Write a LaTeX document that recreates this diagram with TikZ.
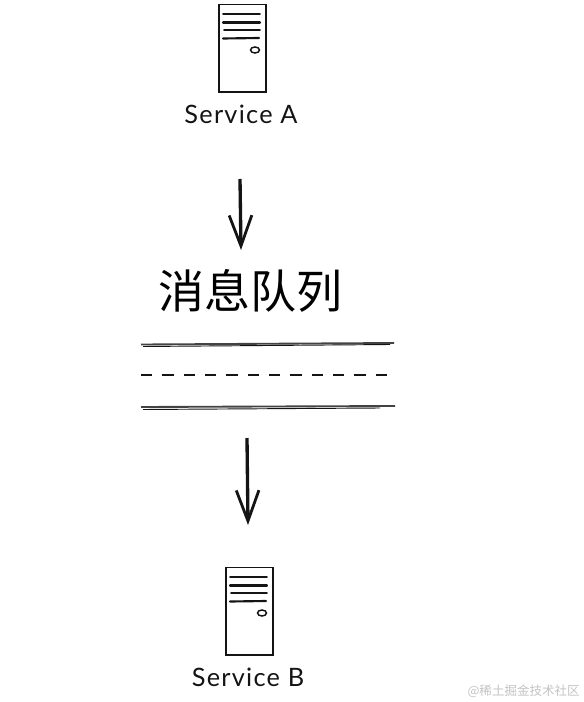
\documentclass[tikz,border=0pt]{standalone}
\usepackage{fontspec}
\setmainfont{Lato}[LetterSpace=5]
\newfontfamily\cjk{Noto Sans CJK SC}
\definecolor{ink}{RGB}{20,20,20}
\definecolor{soft}{RGB}{195,195,195}
\usetikzlibrary{arrows.meta}
\tikzset{
  pen/.style={draw=ink,line width=1.2pt,line cap=round},
  railline/.style={draw=ink!80,line width=1.4pt},
  thinrail/.style={draw=ink,line width=0.7pt},
  servicelabel/.style={font=\fontsize{19}{22}\selectfont,text=ink,inner sep=0pt},
  flow/.style={draw=ink,line width=2.5pt,-{Straight Barb[length=23pt,width=17pt,line width=2.1pt]}},
  serverbox/.pic={
    \draw[pen,line width=1.4pt] (218.7,4.5) rectangle (265.7,92);
    \draw[pen] (223,14) -- (260,14);
    \draw[pen,line width=1.6pt] (223,22.5) -- (260,22.5);
    \draw[pen] (224,30) -- (260,30);
    \draw[pen,line width=1.6pt] (223,38.5) -- (259,38);
    \draw[pen,line width=1.1pt] (255,50) ellipse (4.5 and 3);
  }
}
\begin{document}
\begin{tikzpicture}[x=0.75pt,y=-0.75pt]
  \useasboundingbox (0,0) rectangle (584,702);
  \pic {serverbox};
  \pic at (7,563) {serverbox};
  \node[servicelabel] (labelA) at (241,114) {Service A};
  \node[servicelabel] (labelB) at (248,677) {Service B};
  % arrows
  \coordinate (flowAin) at (240,179);
  \coordinate (flowAout) at (241,250);
  \coordinate (flowBin) at (247,438);
  \coordinate (flowBout) at (248,525);
  \draw[flow] (flowAin) -- (flowAout);
  \draw[flow] (flowBin) -- (flowBout);
  \node[font=\cjk\fontsize{34.5}{36}\selectfont,text=black,inner sep=0pt] (queuetitle) at (250,291) {消息队列};
  % queue rails
  \draw[railline] (141,344.5) -- (394,343);
  \draw[thinrail] (143,346.5) -- (390,344.5);
  \draw[draw=ink,line width=1.5pt,dash pattern=on 8.6pt off 7.4pt] (141,374.5) -- (387,374.5);
  \draw[railline] (141,407) -- (395,406);
  \draw[thinrail] (143,409.5) -- (380,408);
  \node[font=\cjk\fontsize{9.4}{10}\selectfont,text=soft,anchor=east,inner sep=0pt] (watermark) at (580,691) {@稀土掘金技术社区};
\end{tikzpicture}
\end{document}
